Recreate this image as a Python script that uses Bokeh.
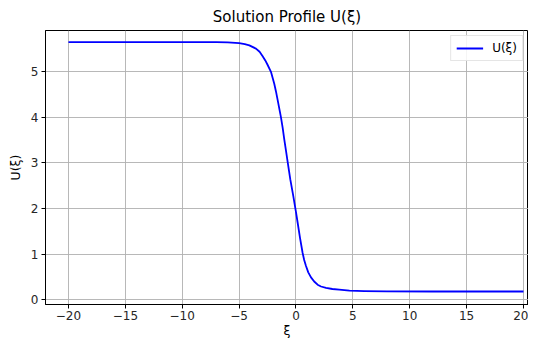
from bokeh.plotting import figure
from bokeh.models import FixedTicker, Range1d, Legend, LegendItem
from bokeh.embed import file_html
from bokeh.resources import INLINE

# values
xi = [-20, -15, -10, -7, -6, -5, -4.5, -4.1, -3.52, -3.2, -2.93, -2.7, -2.49, -2.2,
      -1.91, -1.76, -1.61, -1.32, -1.17, -1.03, -0.88, -0.73, -0.5, -0.24, 0.0, 0.14,
      0.35, 0.58, 0.72, 0.88, 1.08, 1.32, 1.6, 1.9, 2.2, 2.64, 3.2, 3.8, 4.7, 6, 8,
      12, 16, 20]
u = [5.65, 5.65, 5.65, 5.65, 5.645, 5.63, 5.61, 5.58, 5.51, 5.44, 5.34, 5.25, 5.15, 5.0,
     4.74, 4.57, 4.38, 4.0, 3.77, 3.52, 3.27, 3.02, 2.64, 2.28, 1.92, 1.7,
     1.36, 1.03, 0.87, 0.74, 0.6, 0.49, 0.4, 0.33, 0.29, 0.26, 0.235, 0.22, 0.2, 0.19, 0.185,
     0.18, 0.18, 0.18]

x_ticks = [-20, -15, -10, -5, 0, 5, 10, 15, 20]
x_tick_labels = ["\u221220", "\u221215", "\u221210", "\u22125", "0", "5", "10", "15", "20"]
y_ticks = [0, 1, 2, 3, 4, 5]
y_tick_labels = ["0", "1", "2", "3", "4", "5"]

FONT = "DejaVu Sans"

p = figure(width=528, height=340, output_backend="svg", toolbar_location=None,
           x_range=Range1d(-22.02, 20.44), y_range=Range1d(-0.105, 5.907),
           min_border_left=45, min_border_right=0, min_border_top=4, min_border_bottom=0)

p.title.text = "Solution Profile U(\u03be)"
p.title.align = "center"
p.title.offset = 9
p.title.text_font = FONT
p.title.text_font_size = "15px"
p.title.text_font_style = "normal"
p.title.text_color = "#000000"

r = p.line(xi, u, line_color="#0000ff", line_width=1.8, line_join="round")

for ax in (p.xaxis[0], p.yaxis[0]):
    ax.axis_line_color = "#000000"
    ax.major_tick_line_color = "#000000"
    ax.major_tick_out = 4
    ax.major_tick_in = 0
    ax.minor_tick_line_color = None
    ax.major_label_text_font = FONT
    ax.major_label_text_font_size = "12px"
    ax.major_label_text_color = "#262626"
    ax.axis_label_text_font = FONT
    ax.axis_label_text_font_size = "12.5px"
    ax.axis_label_text_font_style = "normal"
    ax.axis_label_text_color = "#000000"

p.xaxis.major_label_standoff = 2
p.xaxis.axis_label_standoff = 0
p.yaxis.major_label_standoff = 3
p.yaxis.axis_label_standoff = 5

p.xaxis.ticker = FixedTicker(ticks=x_ticks)
p.xaxis.major_label_overrides = dict(zip(x_ticks, x_tick_labels))
p.yaxis.ticker = FixedTicker(ticks=y_ticks)
p.yaxis.major_label_overrides = dict(zip(y_ticks, y_tick_labels))
p.xaxis.axis_label = "\u03be"
p.yaxis.axis_label = "U(\u03be)"

p.xgrid.grid_line_color = "#b0b0b0"
p.ygrid.grid_line_color = "#b0b0b0"
p.xgrid.grid_line_width = 0.9
p.ygrid.grid_line_width = 0.9

p.outline_line_color = "#000000"
p.outline_line_alpha = 1
p.outline_line_width = 1

legend = Legend(items=[LegendItem(label="U(\u03be)", renderers=[r])],
                location="top_right")
legend.label_text_font = FONT
legend.label_text_font_size = "12px"
legend.label_text_color = "#000000"
legend.border_line_color = "#cccccc"
legend.border_line_width = 1
legend.background_fill_alpha = 0.85
legend.glyph_width = 27
legend.glyph_height = 14
legend.label_height = 14
legend.padding = 5
legend.spacing = 0
legend.margin = 5
legend.label_standoff = 9
p.add_layout(legend)

open("out.html", "w").write(file_html(p, INLINE))
